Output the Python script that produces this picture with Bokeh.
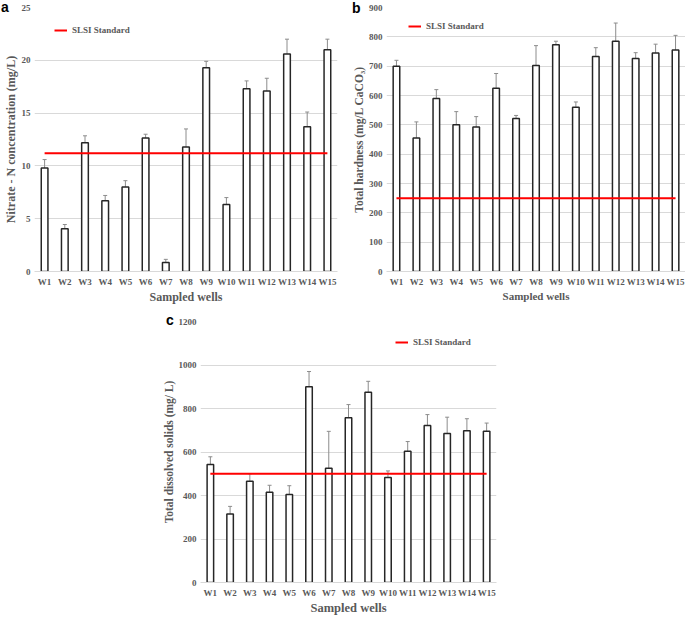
from bokeh.plotting import figure
from bokeh.models import Range1d, FixedTicker, Whisker, ColumnDataSource, TeeHead, Spacer, Div
from bokeh.layouts import column, row
from bokeh.embed import file_html
from bokeh.resources import INLINE

wells = ["W1", "W2", "W3", "W4", "W5", "W6", "W7", "W8", "W9", "W10", "W11", "W12", "W13", "W14", "W15"]

nitrate = [9.8, 4.05, 12.2, 6.7, 8.0, 12.65, 0.85, 11.8, 19.3, 6.35, 17.3, 17.1, 20.6, 13.7, 21.0]
nitrate_err = [0.8, 0.4, 0.65, 0.5, 0.6, 0.35, 0.3, 1.7, 0.6, 0.65, 0.75, 1.2, 1.4, 1.4, 1.0]
nitrate_std = 11.2

hardness = [700, 455, 590, 500, 493, 625, 522, 702, 773, 560, 733, 785, 726, 745, 755]
hardness_err = [20, 55, 30, 45, 35, 50, 10, 68, 12, 18, 30, 62, 20, 30, 50]
hardness_std = 250

tds = [543, 315, 465, 415, 405, 900, 525, 758, 875, 483, 603, 722, 685, 698, 695]
tds_err = [35, 35, 35, 32, 40, 70, 170, 60, 50, 30, 45, 50, 75, 55, 38]
tds_std = 500

panel_letters = ["a", "b", "c"]

SERIF = "Liberation Serif"
GRAY = "#595959"


def panel(vals, errs, std, ymax, ystep, ytitle, width, height,
          bl, br, bt, bb, leg_x, leg_y, xt_size, yt_size):
    p = figure(x_range=wells, y_range=Range1d(0, ymax), width=width, height=height,
               output_backend="svg", toolbar_location=None,
               min_border_left=bl, min_border_right=br, min_border_top=bt, min_border_bottom=bb)
    p.outline_line_color = None
    p.x_range.range_padding = 0
    src = ColumnDataSource(dict(well=wells, v=vals,
                                lo=[a - b for a, b in zip(vals, errs)],
                                hi=[a + b for a, b in zip(vals, errs)]))
    p.vbar(x="well", top="v", width=0.33, source=src, fill_color="white",
           line_color="#262626", line_width=1.5)
    w = Whisker(source=src, base="well", upper="hi", lower="lo",
                line_color="#8c8c8c", line_width=1,
                upper_head=TeeHead(size=4, line_color="#8c8c8c", line_width=1),
                lower_head=TeeHead(size=4, line_color="#8c8c8c", line_width=1))
    p.add_layout(w)
    p.line(x=wells, y=[std] * len(wells), line_color="#ff0000", line_width=2,
           legend_label="SLSI Standard")
    lg = p.legend[0]
    lg.location = (leg_x, leg_y)
    lg.padding = 0
    lg.margin = 0
    lg.border_line_color = None
    lg.background_fill_alpha = 0
    lg.glyph_width = 13
    lg.glyph_height = 10
    lg.label_height = 10
    lg.label_standoff = 5
    lg.label_text_font = SERIF
    lg.label_text_font_style = "bold"
    lg.label_text_font_size = "9px"
    lg.label_text_color = GRAY

    p.xgrid.grid_line_color = None
    p.ygrid.grid_line_color = "#d9d9d9"
    p.yaxis.ticker = FixedTicker(ticks=list(range(0, ymax + 1, ystep)))
    p.yaxis.axis_line_color = None
    p.xaxis.axis_line_color = "#d9d9d9"
    for ax in (p.xaxis[0], p.yaxis[0]):
        ax.major_tick_line_color = None
        ax.minor_tick_line_color = None
        ax.major_tick_out = 0
        ax.major_tick_in = 0
        ax.minor_tick_out = 0
        ax.minor_tick_in = 0
        ax.major_label_text_font = SERIF
        ax.major_label_text_font_style = "bold"
        ax.major_label_text_font_size = "9px"
        ax.major_label_text_color = GRAY
        ax.axis_label_text_font = SERIF
        ax.axis_label_text_font_style = "bold"
        ax.axis_label_text_color = GRAY
        ax.major_label_standoff = 4
        ax.axis_label_standoff = 1
    p.xaxis.axis_label = "Sampled wells"
    p.xaxis.axis_label_text_font_size = xt_size
    p.xaxis.major_label_standoff = 5
    p.xaxis.axis_label_standoff = 0
    p.yaxis.axis_label = ytitle
    p.yaxis.axis_label_text_font_size = yt_size
    return p


def letter_div(text, left, top):
    return Div(text=text, width=12, height=16, margin=0,
               styles={"position": "absolute", "left": f"{left}px", "top": f"{top}px",
                       "font-family": "Liberation Sans", "font-weight": "bold",
                       "font-size": "14px", "line-height": "14px", "color": "black",
                       "z-index": "10"})


pa = panel(nitrate, nitrate_err, nitrate_std, 25, 5, "Nitrate - N concentration (mg/L)",
           340, 306, 33, 3, 7, 28, 20, 236, "12px", "12px")
pb = panel(hardness, hardness_err, hardness_std, 900, 100, "Total hardness (mg/L CaCO\u2083)",
           345, 306, 46, 0, 5, 28, 22, 240, "11px", "11.5px")
pc = panel(tds, tds_err, tds_std, 1200, 200, "Total dissolved solids (mg/ L)",
           356, 311, 50, 10, 15, 28, 195, 235, "12.5px", "11.5px")

layout = column(
    letter_div(panel_letters[0], 1, 0),
    letter_div(panel_letters[1], 352, 1),
    letter_div(panel_letters[2], 166, 313),
    row(pa, pb),
    row(Spacer(width=150, height=311), pc),
)
open("out.html", "w").write(file_html(layout, INLINE))
